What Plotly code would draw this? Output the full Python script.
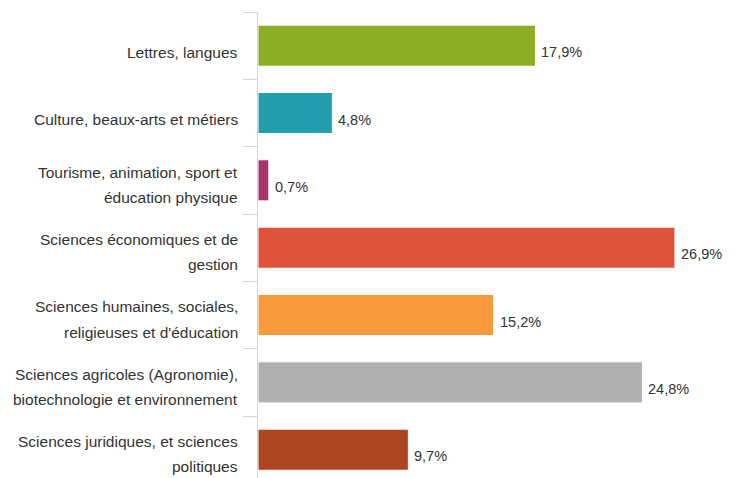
import plotly.graph_objects as go

categories = [
    "Lettres, langues",
    "Culture, beaux-arts et métiers",
    "Tourisme, animation, sport et<br>éducation physique",
    "Sciences économiques et de<br>gestion",
    "Sciences humaines, sociales,<br>religieuses et d'éducation",
    "Sciences agricoles (Agronomie),<br>biotechnologie et environnement",
    "Sciences juridiques, et sciences<br>politiques",
]
values = [17.9, 4.8, 0.7, 26.9, 15.2, 24.8, 9.7]
colors = ["#8bae24", "#229eae", "#a8336b", "#e0523a", "#f99b3b", "#b0b0b0", "#ae4420"]
value_labels = [f"{v:.1f}%".replace(".", ",") for v in values]

ids = list(range(len(categories)))
FONT = "Liberation Sans, Arial, sans-serif"

fig = go.Figure(go.Bar(
    y=ids,
    x=values,
    orientation="h",
    marker=dict(color=colors, line=dict(color="white", width=1)),
    width=0.61,
    hoverinfo="skip",
))

annotations = []
line_h = 25.5
for i, lab in enumerate(categories):
    lines = lab.split("<br>")
    n = len(lines)
    base = -6.5 if n == 1 else -4.5
    for j, ln in enumerate(lines):
        annotations.append(dict(
            xref="paper", yref="y", x=0, y=i,
            text=ln, showarrow=False, xanchor="right", yanchor="middle",
            xshift=-18, yshift=base + ((n - 1) / 2 - j) * line_h,
            font=dict(family=FONT, size=15.5, color="#333333"),
        ))

for i, (v, t) in enumerate(zip(values, value_labels)):
    annotations.append(dict(
        xref="x", yref="y", x=v, y=i, text=t, showarrow=False,
        xanchor="left", yanchor="middle", xshift=4, yshift=-6.5,
        font=dict(family=FONT, size=14.5, color="#333333"),
    ))

fig.update_layout(
    width=738, height=478,
    margin=dict(l=258, r=15, t=12, b=0),
    paper_bgcolor="white", plot_bgcolor="white",
    showlegend=False,
    annotations=annotations,
    xaxis=dict(range=[0, 30], showgrid=False, zeroline=False, showticklabels=False,
               showline=False, ticks=""),
    yaxis=dict(type="linear", range=[6.42, -0.5], showgrid=False, zeroline=False,
               showticklabels=False, showline=True, linecolor="#ccd6eb", linewidth=1,
               ticks="outside", ticklen=14, tickcolor="#ccd6eb", tickwidth=1,
               tickvals=[k - 0.5 for k in range(len(categories))]),
)

fig.write_html("out.html", config={"displayModeBar": False},
               post_script="document.body.style.margin='0';document.body.style.overflow='hidden';")
